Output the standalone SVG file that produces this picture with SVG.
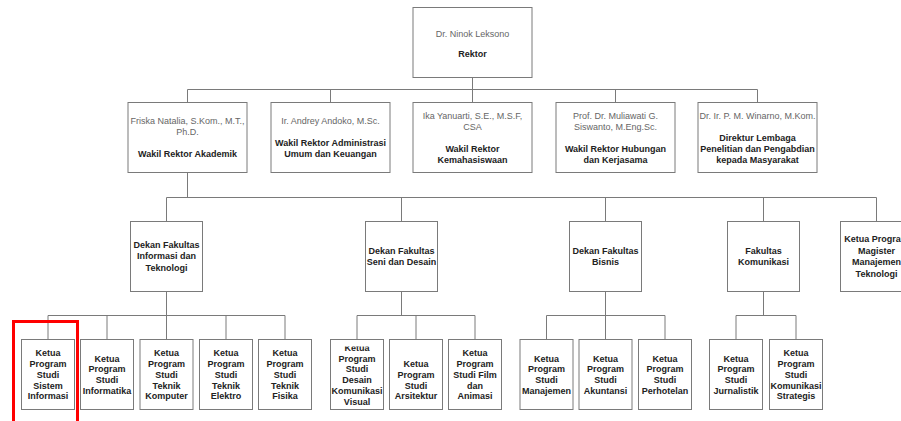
<svg xmlns="http://www.w3.org/2000/svg" width="901" height="421" viewBox="0 0 901 421">
<style>
.box{fill:#fff;stroke:#7a7a7a;stroke-width:1}
.ln{fill:none;stroke:#7a7a7a;stroke-width:1}
.nm{font-family:"Liberation Sans",Arial,sans-serif;font-size:9px;fill:#666;text-anchor:middle}
.tt{font-family:"Liberation Sans",Arial,sans-serif;font-size:9px;font-weight:bold;fill:#222;text-anchor:middle}
</style>
<defs>
<clipPath id="clipDesain"><rect x="330" y="346.5" width="53" height="64"/></clipPath>
</defs>
<rect width="901" height="421" fill="#fff"/>
<g id="connectors">
<path class="ln" d="M472.5 77.5V89.5M187.5 89.5H757.5M187.5 89.5V102.5M330.5 89.5V102.5M472.5 89.5V102.5M615.5 89.5V102.5M757.5 89.5V102.5"/>
<path class="ln" d="M187.5 172.5V197.5M166.5 197.5H876.5M166.5 197.5V221.5M401.5 197.5V221.5M605.5 197.5V221.5M763.5 197.5V221.5M876.5 197.5V221.5"/>
<path class="ln" d="M166.5 291.5V315.5M48 315.5H285M48 315.5V339.5M107 315.5V339.5M166.5 315.5V339.5M226 315.5V339.5M285 315.5V339.5"/>
<path class="ln" d="M401.5 291.5V315.5M357 315.5H475M357 315.5V339.5M416 315.5V339.5M475 315.5V339.5"/>
<path class="ln" d="M605.5 291.5V315.5M546.5 315.5H665M546.5 315.5V339.5M605.5 315.5V339.5M665 315.5V339.5"/>
<path class="ln" d="M763.5 291.5V315.5M736 315.5H796M736 315.5V339.5M796 315.5V339.5"/>
</g>
<g id="rektor"><rect class="box" x="413" y="7.5" width="119" height="70"/><text class="nm" x="472.5" y="36.5">Dr. Ninok Leksono</text><text class="tt" x="472.5" y="56.5">Rektor</text></g>
<g id="wr1"><rect class="box" x="128" y="102.5" width="119" height="70"/><text class="nm" x="187.5" y="124.3">Friska Natalia, S.Kom., M.T.,</text><text class="nm" x="187.5" y="135.3">Ph.D.</text><text class="tt" x="187.5" y="157.3">Wakil Rektor Akademik</text></g>
<g id="wr2"><rect class="box" x="271" y="102.5" width="119" height="70"/><text class="nm" x="330.5" y="124.3">Ir. Andrey Andoko, M.Sc.</text><text class="tt" x="330.5" y="146.3">Wakil Rektor Administrasi</text><text class="tt" x="330.5" y="157.3">Umum dan Keuangan</text></g>
<g id="wr3"><rect class="box" x="413" y="102.5" width="119" height="70"/><text class="nm" x="472.5" y="118.8">Ika Yanuarti, S.E., M.S.F,</text><text class="nm" x="472.5" y="129.8">CSA</text><text class="tt" x="472.5" y="151.8">Wakil Rektor</text><text class="tt" x="472.5" y="162.8">Kemahasiswaan</text></g>
<g id="wr4"><rect class="box" x="556" y="102.5" width="119" height="70"/><text class="nm" x="615.5" y="118.8">Prof. Dr. Muliawati G.</text><text class="nm" x="615.5" y="129.8">Siswanto, M.Eng.Sc.</text><text class="tt" x="615.5" y="151.8">Wakil Rektor Hubungan</text><text class="tt" x="615.5" y="162.8">dan Kerjasama</text></g>
<g id="dir"><rect class="box" x="698" y="102.5" width="119" height="70"/><text class="nm" x="757.5" y="118.8">Dr. Ir. P. M. Winarno, M.Kom.</text><text class="tt" x="757.5" y="140.8">Direktur Lembaga</text><text class="tt" x="757.5" y="151.8">Penelitian dan Pengabdian</text><text class="tt" x="757.5" y="162.8">kepada Masyarakat</text></g>
<g id="fit"><rect class="box" x="130.5" y="221.5" width="72" height="70"/><text class="tt" x="166.5" y="247.8">Dekan Fakultas</text><text class="tt" x="166.5" y="259.3">Informasi dan</text><text class="tt" x="166.5" y="270.8">Teknologi</text></g>
<g id="fsd"><rect class="box" x="365.5" y="221.5" width="72" height="70"/><text class="tt" x="401.5" y="253.5">Dekan Fakultas</text><text class="tt" x="401.5" y="265">Seni dan Desain</text></g>
<g id="fb"><rect class="box" x="569.5" y="221.5" width="72" height="70"/><text class="tt" x="605.5" y="253.5">Dekan Fakultas</text><text class="tt" x="605.5" y="265">Bisnis</text></g>
<g id="fk"><rect class="box" x="727.5" y="221.5" width="72" height="70"/><text class="tt" x="763.5" y="253.5">Fakultas</text><text class="tt" x="763.5" y="265">Komunikasi</text></g>
<g id="mmt"><rect class="box" x="840.5" y="221.5" width="72" height="70"/><text class="tt" x="876.5" y="242">Ketua Program</text><text class="tt" x="876.5" y="253.5">Magister</text><text class="tt" x="876.5" y="265">Manajemen</text><text class="tt" x="876.5" y="276.5">Teknologi</text></g>
<g id="si"><rect class="box" x="21.5" y="339.5" width="53" height="70"/><text class="tt" x="48" y="356.4">Ketua</text><text class="tt" x="48" y="367.1">Program</text><text class="tt" x="48" y="377.8">Studi</text><text class="tt" x="48" y="388.5">Sistem</text><text class="tt" x="48" y="399.2">Informasi</text></g>
<g id="if"><rect class="box" x="80.5" y="339.5" width="53" height="70"/><text class="tt" x="107" y="361.7">Ketua</text><text class="tt" x="107" y="372.4">Program</text><text class="tt" x="107" y="383.1">Studi</text><text class="tt" x="107" y="393.8">Informatika</text></g>
<g id="tk"><rect class="box" x="140" y="339.5" width="53" height="70"/><text class="tt" x="166.5" y="356.4">Ketua</text><text class="tt" x="166.5" y="367.1">Program</text><text class="tt" x="166.5" y="377.8">Studi</text><text class="tt" x="166.5" y="388.5">Teknik</text><text class="tt" x="166.5" y="399.2">Komputer</text></g>
<g id="te"><rect class="box" x="199.5" y="339.5" width="53" height="70"/><text class="tt" x="226" y="356.4">Ketua</text><text class="tt" x="226" y="367.1">Program</text><text class="tt" x="226" y="377.8">Studi</text><text class="tt" x="226" y="388.5">Teknik</text><text class="tt" x="226" y="399.2">Elektro</text></g>
<g id="tf"><rect class="box" x="258.5" y="339.5" width="53" height="70"/><text class="tt" x="285" y="356.4">Ketua</text><text class="tt" x="285" y="367.1">Program</text><text class="tt" x="285" y="377.8">Studi</text><text class="tt" x="285" y="388.5">Teknik</text><text class="tt" x="285" y="399.2">Fisika</text></g>
<g id="dkv"><rect class="box" x="330.5" y="339.5" width="53" height="70"/><g clip-path="url(#clipDesain)"><text class="tt" x="357" y="351">Ketua</text></g><text class="tt" x="357" y="361.7">Program</text><text class="tt" x="357" y="372.4">Studi</text><text class="tt" x="357" y="383.1">Desain</text><text class="tt" x="357" y="393.8">Komunikasi</text><text class="tt" x="357" y="404.5">Visual</text></g>
<g id="ars"><rect class="box" x="389.5" y="339.5" width="53" height="70"/><text class="tt" x="416" y="367.1">Ketua</text><text class="tt" x="416" y="377.8">Program</text><text class="tt" x="416" y="388.5">Studi</text><text class="tt" x="416" y="399.2">Arsitektur</text></g>
<g id="film"><rect class="box" x="448.5" y="339.5" width="53" height="70"/><text class="tt" x="475" y="356.4">Ketua</text><text class="tt" x="475" y="367.1">Program</text><text class="tt" x="475" y="377.8">Studi Film</text><text class="tt" x="475" y="388.5">dan</text><text class="tt" x="475" y="399.2">Animasi</text></g>
<g id="man"><rect class="box" x="520" y="339.5" width="53" height="70"/><text class="tt" x="546.5" y="361.7">Ketua</text><text class="tt" x="546.5" y="372.4">Program</text><text class="tt" x="546.5" y="383.1">Studi</text><text class="tt" x="546.5" y="393.8">Manajemen</text></g>
<g id="akt"><rect class="box" x="579" y="339.5" width="53" height="70"/><text class="tt" x="605.5" y="361.7">Ketua</text><text class="tt" x="605.5" y="372.4">Program</text><text class="tt" x="605.5" y="383.1">Studi</text><text class="tt" x="605.5" y="393.8">Akuntansi</text></g>
<g id="ph"><rect class="box" x="638.5" y="339.5" width="53" height="70"/><text class="tt" x="665" y="361.7">Ketua</text><text class="tt" x="665" y="372.4">Program</text><text class="tt" x="665" y="383.1">Studi</text><text class="tt" x="665" y="393.8">Perhotelan</text></g>
<g id="jur"><rect class="box" x="709.5" y="339.5" width="53" height="70"/><text class="tt" x="736" y="361.7">Ketua</text><text class="tt" x="736" y="372.4">Program</text><text class="tt" x="736" y="383.1">Studi</text><text class="tt" x="736" y="393.8">Jurnalistik</text></g>
<g id="ks"><rect class="box" x="769.5" y="339.5" width="53" height="70"/><text class="tt" x="796" y="356.4">Ketua</text><text class="tt" x="796" y="367.1">Program</text><text class="tt" x="796" y="377.8">Studi</text><text class="tt" x="796" y="388.5">Komunikasi</text><text class="tt" x="796" y="399.2">Strategis</text></g>
<rect x="13.5" y="321.5" width="64" height="110" fill="none" stroke="#f00" stroke-width="3"/>
</svg>
